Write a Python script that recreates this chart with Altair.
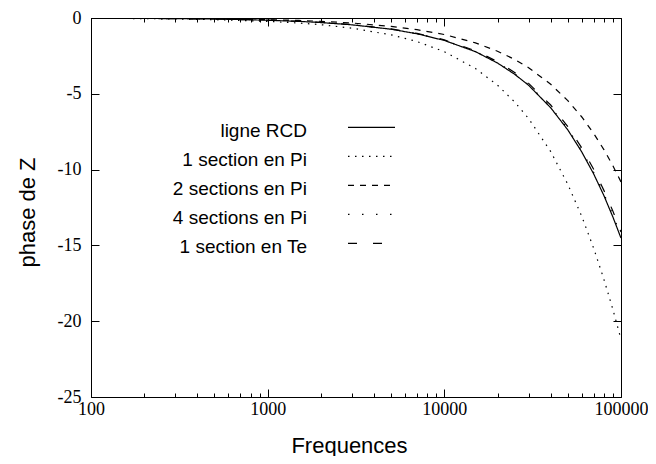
import altair as alt
import pandas as pd

# ---- data ----
freq = [100, 200, 300, 500, 700, 1000, 1500, 2000, 3000, 5000, 7000, 10000,
        15000, 20000, 25000, 30000, 40000, 50000, 60000, 70000, 80000, 90000, 100000]

series_names = ["ligne RCD", "1 section en Pi", "2 sections en Pi",
                "4 sections en Pi", "1 section en Te"]

rcd = [-0.01, -0.03, -0.04, -0.07, -0.10, -0.15, -0.22, -0.30, -0.45, -0.74, -1.04, -1.48,
       -2.22, -2.97, -3.71, -4.44, -5.92, -7.38, -8.84, -10.28, -11.71, -13.13, -14.52]
pi1 = [-0.02, -0.04, -0.07, -0.11, -0.16, -0.22, -0.33, -0.44, -0.67, -1.11, -1.55, -2.22,
       -3.33, -4.43, -5.54, -6.63, -8.81, -10.97, -13.09, -15.18, -17.23, -19.23, -21.19]
pi2 = [-0.01, -0.02, -0.03, -0.05, -0.08, -0.11, -0.16, -0.22, -0.33, -0.55, -0.77, -1.09,
       -1.64, -2.19, -2.73, -3.28, -4.37, -5.45, -6.53, -7.61, -8.68, -9.75, -10.81]
pi4 = [-0.01, -0.03, -0.04, -0.07, -0.10, -0.15, -0.22, -0.29, -0.44, -0.73, -1.03, -1.47,
       -2.20, -2.94, -3.67, -4.40, -5.86, -7.31, -8.75, -10.18, -11.59, -12.99, -14.38]
te1 = [-0.01, -0.03, -0.04, -0.07, -0.10, -0.14, -0.22, -0.29, -0.43, -0.72, -1.01, -1.44,
       -2.16, -2.88, -3.59, -4.31, -5.74, -7.16, -8.57, -9.98, -11.37, -12.74, -14.12]

x_major = [100, 1000, 10000, 100000]
y_ticks = [-25, -20, -15, -10, -5, 0]

# ---- styles ----
dashes = [[1, 0], [1.5, 5.5], [6, 6], [1.5, 12.5], [9, 16]]
W, H = 530, 379
PAD = {"left": 83, "top": 10, "right": 27, "bottom": 59}

rows = []
for name, vals in zip(series_names, [rcd, pi1, pi2, pi4, te1]):
    for f, v in zip(freq, vals):
        rows.append({"f": f, "phase": v, "serie": name})
df = pd.DataFrame(rows)

x_minor = [m * d for d in (100, 1000, 10000) for m in range(2, 10)]
x_vals = sorted(x_major + x_minor)

major_test = "indexof([100, 1000, 10000, 100000], datum.value) >= 0"

x_axis = alt.Axis(
    values=x_vals, format="d",
    labelExpr=f"{major_test} ? datum.label : ''",
    domain=False, ticks=False, grid=True,
    gridColor="black", gridOpacity=1, gridWidth=1,
    gridDash={"condition": {"test": major_test, "value": [8, H - 16, 8, 2000]},
              "value": [4, H - 8, 4, 2000]},
    labelFont="Liberation Serif", labelFontSize=18, labelColor="black",
    labelPadding=3, labelFlush=False, labelOverlap=False, labelBound=False,
    title="Frequences", titleFont="Liberation Sans", titleFontSize=22,
    titleFontWeight="normal", titleColor="black",
    titleX=258, titleY=48, titleBaseline="middle", titleAlign="center",
)

y_axis = alt.Axis(
    values=y_ticks, labelExpr="'' + datum.value",
    domain=False, ticks=False, grid=True,
    gridColor="black", gridOpacity=1, gridWidth=1,
    gridDash=[8, W - 16, 8, 2000],
    labelFont="Liberation Serif", labelFontSize=18, labelColor="black",
    labelPadding=10, labelOverlap=False, labelBound=False, labelFlush=False,
    title="phase de Z", titleFont="Liberation Sans", titleFontSize=22,
    titleFontWeight="normal", titleColor="black",
    titleX=-64, titleY=194, titleBaseline="middle", titleAlign="center", titleAngle=-90,
)

lines = alt.Chart(df).mark_line(color="black", strokeWidth=1.2, clip=True).encode(
    x=alt.X("f:Q", scale=alt.Scale(type="log", domain=[100, 100000], nice=False), axis=x_axis),
    y=alt.Y("phase:Q", scale=alt.Scale(domain=[-25, 0], nice=False, zero=False), axis=y_axis),
    strokeDash=alt.StrokeDash("serie:N", scale=alt.Scale(domain=series_names, range=dashes), legend=None),
)

legend_layers = []
for i, (name, dash) in enumerate(zip(series_names, dashes)):
    ly = 109.3 + i * 29
    ldf = pd.DataFrame({"t": [name]})
    legend_layers.append(
        alt.Chart(ldf).mark_text(align="right", baseline="alphabetic", font="Liberation Sans",
                                 fontSize=19, color="black").encode(
            x=alt.value(216), y=alt.value(ly + 10), text="t:N")
    )
    legend_layers.append(
        alt.Chart(ldf).mark_rule(color="black", strokeWidth=1.2, strokeDash=dash).encode(
            x=alt.value(257), x2=alt.value(304), y=alt.value(ly))
    )

chart = alt.layer(lines, *legend_layers).properties(
    width=W, height=H,
    autosize=alt.AutoSizeParams(type="none"),
    padding=PAD,
).configure_view(stroke="black", strokeWidth=1)

chart.save("out.html", embed_options={"renderer": "svg", "actions": False})
